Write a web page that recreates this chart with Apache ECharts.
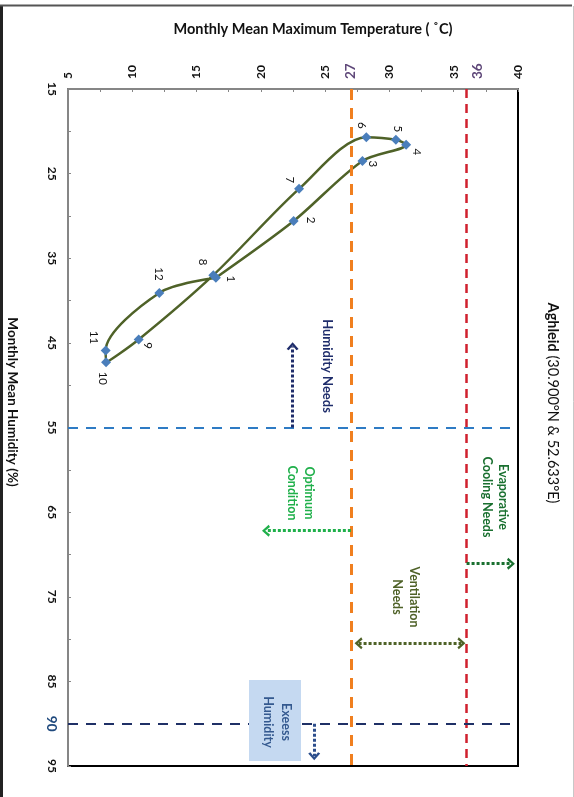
<!DOCTYPE html>
<html><head><meta charset="utf-8">
<script src="https://cdn.jsdelivr.net/npm/echarts@6/dist/echarts.min.js"></script>
<style>html,body{margin:0;padding:0;background:#fff}#c{width:574px;height:797px}</style>
</head><body><div id="c"></div>
<script>
// ---- data ----
const months = ['1','2','3','4','5','6','7','8','9','10','11','12'];
const temperature = [16.5, 22.55, 27.9, 31.3, 30.5, 28.2, 22.97, 16.3, 10.5, 7.96, 7.93, 12.1];
const humidity    = [37.3, 30.6, 23.5, 21.6, 21.0, 20.7, 26.8, 37.0, 44.6, 47.3, 45.9, 39.1];
const tempLabels = [5, 10, 15, 20, 25, 27, 30, 35, 36, 40];
const humLabels = [15, 25, 35, 45, 55, 65, 75, 85, 90, 95];
const thresholdTemps = [27, 36];
const thresholdHums = [55, 90];
const arrowHumidityNeeds = [[22.47, 55], [22.47, 45.4]];
const arrowOptimum = [[27, 67.2], [20.4, 67.2]];
const arrowVentilation = [[27.6, 80.5], [35.6, 80.5]];
const arrowEvaporative = [[36, 71.1], [39.45, 71.1]];
const arrowExcess = [[24.15, 90], [24.15, 93.85]];

// ---- styles (label offsets in px from marker centre) ----
const labelOffsets = [[15,1],[17,-1],[10,3],[11,7],[2,-11],[-5,-12],[-9,-9],[-11,-13],[9,6],[-3,16],[-12,-13],[-1,-19]];
const FONT = 'Lato, "Noto Sans", sans-serif';
const chevron = 'path://M5,0 L10,7 L8.2,8.4 L5,3.4 L1.8,8.4 L0,7 Z';

const pts = months.map((m, i) => ({
  name: m, value: [temperature[i], humidity[i]],
  label: { position: [5 + labelOffsets[i][0], 5 + labelOffsets[i][1]] }
}));
pts.push({ name: '', value: [temperature[0], humidity[0]], symbol: 'none', label: { show: false } });

const thrColorsT = ['#F07F1F', '#D0202E'];
const thrColorsH = ['#2E7BC4', '#1F3066'];
const thrStylesT = [{ width: 3, type: [11, 8] }, { width: 2.5, type: [9, 6] }];
const thrStylesH = [{ width: 2, type: [10, 8] }, { width: 2, type: [10, 8] }];

function arrowLine(seg, color, both) {
  return [
    { coord: seg[0], symbol: both ? chevron : 'none', symbolSize: [12, 8], lineStyle: { color: color, width: 3, type: [3, 2] } },
    { coord: seg[1], symbol: chevron, symbolSize: [12, 8], lineStyle: { color: color, width: 3, type: [3, 2] } }
  ];
}

const chart = echarts.init(document.getElementById('c'));
chart.setOption({
  animation: false,
  backgroundColor: '#fff',
  grid: { left: 68, right: 56, top: 89, bottom: 31, show: true, borderColor: '#000', borderWidth: 2 },
  xAxis: {
    type: 'value', position: 'top', min: 5, max: 40, interval: 2.5,
    axisLine: { show: true, lineStyle: { color: '#868686', width: 2 } },
    axisTick: { show: true, inside: true, length: 3, lineStyle: { color: '#868686' } },
    splitLine: { show: false },
    axisLabel: {
      customValues: tempLabels, rotate: -90, margin: 10,
      fontFamily: FONT, fontSize: 12, fontWeight: 'bold', color: '#111',
      formatter: v => v === 27 ? '{p|27}' : (v === 36 ? '{q|36}' : String(v)),
      rich: {
        p: { color: '#60497A', fontSize: 13.5, fontWeight: 'bold', fontFamily: FONT },
        q: { color: '#60497A', fontSize: 13.5, fontWeight: 'bold', fontFamily: FONT, padding: [22, 0, 0, 0] }
      }
    }
  },
  yAxis: {
    type: 'value', inverse: true, min: 15, max: 95, interval: 5,
    axisLine: { show: true, lineStyle: { color: '#868686', width: 2 } },
    axisTick: { show: true, inside: true, length: 3, lineStyle: { color: '#868686' } },
    splitLine: { show: false },
    axisLabel: {
      customValues: humLabels, rotate: -90, margin: 10,
      fontFamily: FONT, fontSize: 12, fontWeight: 'bold', color: '#111',
      formatter: v => v === 90 ? '{p|90}' : String(v),
      rich: { p: { color: '#1F497D', fontSize: 13.5, fontWeight: 'bold', fontFamily: FONT } }
    }
  },
  series: [
    {
      type: 'line', data: [], z: 1, silent: true,
      markLine: {
        silent: true, symbol: ['none', 'none'], label: { show: false },
        data: thresholdTemps.map((t, i) => ({ xAxis: t, lineStyle: Object.assign({ color: thrColorsT[i] }, thrStylesT[i]) }))
          .concat(thresholdHums.map((h, i) => ({ yAxis: h, lineStyle: Object.assign({ color: thrColorsH[i] }, thrStylesH[i]) })))
      }
    },
    {
      type: 'line', data: [], z: 2, silent: true,
      markLine: {
        silent: true, label: { show: false },
        data: [
          arrowLine(arrowHumidityNeeds, '#1F2D6B', false),
          arrowLine(arrowOptimum, '#20B04B', false),
          arrowLine(arrowVentilation, '#4F6228', true),
          arrowLine(arrowEvaporative, '#1A7030', false),
          arrowLine(arrowExcess, '#2C4E8C', false)
        ]
      }
    },
    {
      type: 'line', data: pts, z: 3, smooth: 0.3,
      symbol: 'diamond', symbolSize: 10,
      itemStyle: { color: '#4A7EBB' },
      lineStyle: { color: '#4F6228', width: 2.5 },
      label: {
        show: true, formatter: p => p.name, rotate: -90, align: 'center', verticalAlign: 'middle',
        fontFamily: FONT, fontSize: 11.5, color: '#111'
      }
    }
  ],
  graphic: [
    { type: 'line', shape: { x1: 1.5, y1: 5, x2: 1.5, y2: 797 }, style: { stroke: '#222', lineWidth: 3 }, z: 20 },
    { type: 'line', shape: { x1: 0, y1: 5.5, x2: 572, y2: 5.5 }, style: { stroke: '#555', lineWidth: 2 }, z: 20 },
    { type: 'line', shape: { x1: 573.5, y1: 6, x2: 573.5, y2: 797 }, style: { stroke: '#c8c8c8', lineWidth: 1 }, z: 20 },
    { type: 'text', x: 313, y: 29, z: 20, style: { text: 'Monthly Mean Maximum Temperature ( ˚C)', font: 'bold 14.5px ' + FONT, fill: '#111', align: 'center', verticalAlign: 'middle' } },
    { type: 'text', x: 12, y: 402, rotation: -Math.PI / 2, z: 20, style: { text: 'Monthly Mean Humidity (%)', font: 'bold 13.5px ' + FONT, fill: '#111', align: 'center', verticalAlign: 'middle' } },
    { type: 'text', x: 553, y: 403, rotation: -Math.PI / 2, z: 20, style: { text: '{b|Aghleid} (30.900°N & 52.633°E)', font: '14.5px ' + FONT, fill: '#111', align: 'center', verticalAlign: 'middle', rich: { b: { fontWeight: 'bold', fontSize: 14.5, fontFamily: FONT, fill: '#111' } } } },
    { type: 'text', x: 327, y: 366, rotation: -Math.PI / 2, z: 20, style: { text: 'Humidity Needs', font: 'bold 13px ' + FONT, fill: '#1F2D6B', align: 'center', verticalAlign: 'middle' } },
    { type: 'text', x: 301, y: 493, rotation: -Math.PI / 2, z: 20, style: { text: 'Optimum\nCondition', font: 'bold 12.5px ' + FONT, fill: '#20B04B', align: 'center', verticalAlign: 'middle', lineHeight: 17 } },
    { type: 'text', x: 406, y: 597, rotation: -Math.PI / 2, z: 20, style: { text: 'Ventilation\nNeeds', font: 'bold 12.5px ' + FONT, fill: '#4F6228', align: 'center', verticalAlign: 'middle', lineHeight: 17 } },
    { type: 'text', x: 495, y: 497, rotation: -Math.PI / 2, z: 20, style: { text: 'Evaporative\nCooling Needs', font: 'bold 12.5px ' + FONT, fill: '#1A7030', align: 'center', verticalAlign: 'middle', lineHeight: 16 } },
    { type: 'rect', shape: { x: 249, y: 680, width: 52, height: 81 }, style: { fill: '#C5D9F1' }, z: 19 },
    { type: 'text', x: 277, y: 722, rotation: -Math.PI / 2, z: 20, style: { text: 'Exeess\nHumidity', font: 'bold 12.5px ' + FONT, fill: '#34598F', align: 'center', verticalAlign: 'middle', lineHeight: 18 } }
  ]
});
</script>
</body></html>
